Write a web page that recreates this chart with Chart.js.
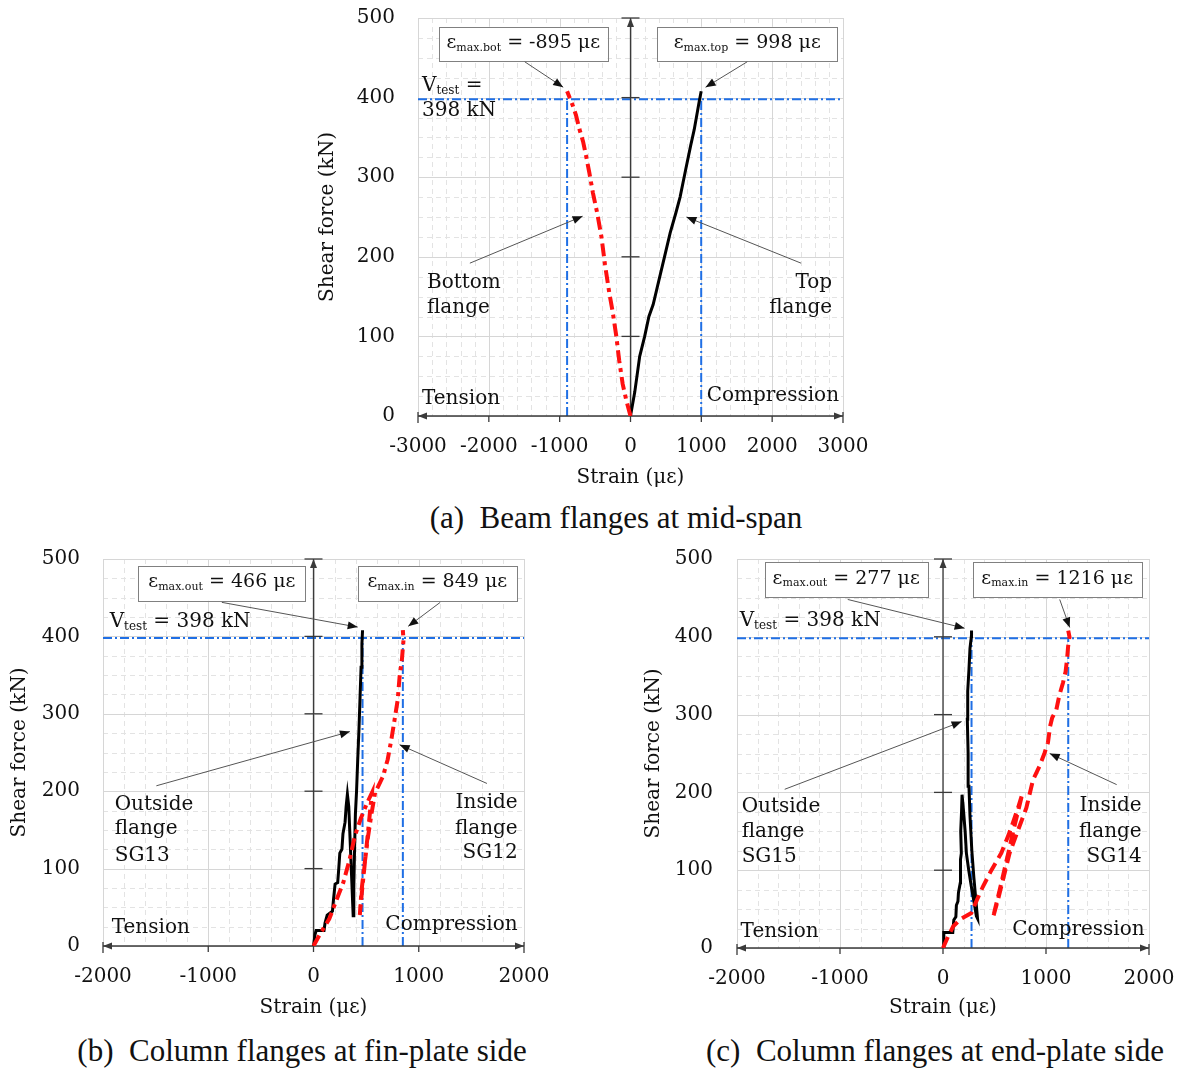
<!DOCTYPE html>
<html>
<head>
<meta charset="utf-8">
<script src="https://cdn.jsdelivr.net/npm/chart.js@4.4.1/dist/chart.umd.min.js"></script>
<style>
  body { margin: 0; background: #fff; }
  #page { position: relative; width: 1185px; height: 1072px; overflow: hidden; background: #fff; }
  canvas { position: absolute; }
  .cap { position: absolute; font-family: "Liberation Serif", serif; font-size: 31px; color: #111; white-space: pre; transform: translateX(-50%); }
</style>
</head>
<body>
<div id="page">
  <canvas id="chartA" width="575" height="500" style="left:300px;top:0px"></canvas>
  <canvas id="chartB" width="560" height="490" style="left:0px;top:540px"></canvas>
  <canvas id="chartC" width="555" height="490" style="left:630px;top:540px"></canvas>
  <div class="cap" style="left:616px;top:500px">(a)  Beam flanges at mid-span</div>
  <div class="cap" style="left:302px;top:1033px">(b)  Column flanges at fin-plate side</div>
  <div class="cap" style="left:935px;top:1033px">(c)  Column flanges at end-plate side</div>
</div>
<script>
// ---- data (strain in microstrain, shear force in kN) ----
const xTicksA = [-3000, -2000, -1000, 0, 1000, 2000, 3000];
const xTicksBC = [-2000, -1000, 0, 1000, 2000];
const yTicks = [0, 100, 200, 300, 400, 500];
const vTest = 398;

// (a) beam flanges at mid-span
const topFlangeStrainA = [0, 60, 130, 200, 260, 320, 400, 480, 560, 640, 700, 780, 850, 900, 940, 970, 998];
const topFlangeForceA  = [0, 30, 75, 100, 125, 140, 170, 200, 230, 255, 275, 310, 340, 360, 380, 395, 408];
const botFlangeStrainA = [0, -60, -110, -160, -200, -250, -300, -360, -410, -470, -530, -580, -625, -670, -720, -770, -815, -860, -895];
const botFlangeForceA  = [0, 20, 40, 70, 100, 130, 155, 190, 225, 255, 280, 305, 326, 345, 360, 378, 390, 400, 408];
const peaksA = [-895, 998];

// (b) column flanges at fin-plate side
const outStrainB = [0, 15, 25, 100, 110, 130, 180, 190, 205, 230, 240, 250, 270, 280, 300, 310, 322, 335, 350, 365, 377, 383, 390, 398, 409, 420, 432, 442, 452, 460, 466];
const outForceB  = [0, 15, 20, 20, 30, 40, 45, 60, 80, 82, 100, 120, 125, 145, 160, 180, 196, 180, 130, 80, 39, 75, 125, 170, 200, 240, 280, 320, 360, 390, 408];
const inStrainB  = [0, 60, 150, 220, 283, 340, 393, 450, 510, 555, 520, 490, 460, 440, 455, 480, 519, 550, 585, 660, 705, 740, 770, 800, 818, 840, 855, 849];
const inForceB   = [0, 15, 35, 60, 82, 110, 142, 165, 185, 198, 150, 110, 70, 40, 70, 100, 142, 170, 198, 219, 241, 267, 292, 318, 348, 370, 395, 408];
const peaksB = [466, 849];

// (c) column flanges at end-plate side
const outStrainC = [0, 8, 95, 105, 125, 130, 145, 150, 168, 170, 178, 172, 180, 185, 200, 215, 227, 250, 275, 300, 324, 335, 320, 300, 280, 262, 252, 244, 236, 240, 252, 262, 275, 277];
const outForceC  = [0, 20, 20, 36, 40, 55, 60, 71, 84, 114, 122, 150, 175, 197, 175, 150, 122, 100, 79, 60, 41, 38, 60, 90, 125, 170, 208, 250, 294, 330, 358, 385, 400, 408];
const inStrainC  = [0, 50, 100, 180, 275, 330, 388, 470, 566, 650, 728, 770, 700, 630, 560, 485, 534, 590, 647, 730, 809, 874, 938, 987, 1019, 1040, 1060, 1100, 1130, 1165, 1190, 1205, 1215, 1228, 1216];
const inForceC   = [0, 15, 28, 38, 45, 62, 79, 100, 122, 150, 180, 198, 160, 120, 80, 39, 62, 92, 122, 152, 180, 216, 234, 251, 264, 285, 296, 306, 325, 341, 355, 372, 388, 400, 408];
const peaksC = [277, 1216];

const FONT = 'DejaVu Serif';
const TXT = '#111';
const BLUE = '#1f6fe5';

// text pieces with an optional subscript
function rich(main, sub, rest, size = 20) {
  return [{ text: main, size: size }, { text: sub, size: size - 8, dy: 5 }, { text: rest, size: size }];
}
function plain(t) { return [{ text: t, size: 20 }]; }

function drawRich(ctx, parts, x, y, align) {
  let w = 0;
  parts.forEach(p => { ctx.font = p.size + 'px "' + FONT + '"'; w += ctx.measureText(p.text).width; });
  let cx = align === 'right' ? x - w : align === 'center' ? x - w / 2 : x;
  ctx.textAlign = 'left';
  ctx.textBaseline = 'middle';
  ctx.fillStyle = TXT;
  parts.forEach(p => {
    ctx.font = p.size + 'px "' + FONT + '"';
    ctx.fillText(p.text, cx, y + (p.dy || 0));
    cx += ctx.measureText(p.text).width;
  });
}

function arrowHead(ctx, x1, y1, x2, y2, len, half) {
  const ang = Math.atan2(y2 - y1, x2 - x1);
  ctx.beginPath();
  ctx.moveTo(x2, y2);
  ctx.lineTo(x2 - len * Math.cos(ang) + half * Math.sin(ang), y2 - len * Math.sin(ang) - half * Math.cos(ang));
  ctx.lineTo(x2 - len * Math.cos(ang) - half * Math.sin(ang), y2 - len * Math.sin(ang) + half * Math.cos(ang));
  ctx.closePath();
  ctx.fill();
}

function line(ctx, x1, y1, x2, y2) {
  ctx.beginPath(); ctx.moveTo(x1, y1); ctx.lineTo(x2, y2); ctx.stroke();
}

function framePlugin(o) {
  return {
    id: 'frame',
    beforeDatasetsDraw(chart) {
      const { ctx, chartArea: a, scales: { x, y } } = chart;
      const xs = o.xTicks;
      const xmin = xs[0], xmax = xs[xs.length - 1];
      ctx.save();
      // minor grid
      ctx.strokeStyle = '#e3e3e3';
      ctx.lineWidth = 1;
      ctx.setLineDash([5, 4]);
      for (let v = xmin; v <= xmax; v += 200) {
        if (v % 1000 === 0) continue;
        const px = Math.round(x.getPixelForValue(v)) + 0.5;
        line(ctx, px, a.top, px, a.bottom);
      }
      for (let v = 0; v <= 500; v += 25) {
        if (v % 100 === 0) continue;
        const py = Math.round(y.getPixelForValue(v)) + 0.5;
        line(ctx, a.left, py, a.right, py);
      }
      // major grid
      ctx.setLineDash([]);
      ctx.strokeStyle = '#d6d6d6';
      xs.forEach(v => { const px = Math.round(x.getPixelForValue(v)) + 0.5; line(ctx, px, a.top, px, a.bottom); });
      yTicks.forEach(v => { const py = Math.round(y.getPixelForValue(v)) + 0.5; line(ctx, a.left, py, a.right, py); });

      // test load and peak strain guides
      ctx.strokeStyle = BLUE;
      ctx.lineWidth = 2;
      ctx.setLineDash([9, 3, 2, 3]);
      const pv = y.getPixelForValue(vTest);
      line(ctx, a.left, pv, a.right, pv);
      o.peaks.forEach(p => {
        const px = x.getPixelForValue(p);
        line(ctx, px, y.getPixelForValue(0), px, pv);
      });
      ctx.setLineDash([]);

      // axes through origin
      ctx.strokeStyle = '#3a3a3a';
      ctx.fillStyle = '#3a3a3a';
      ctx.lineWidth = 1.3;
      const x0 = x.getPixelForValue(0), y0 = y.getPixelForValue(0), yTop = y.getPixelForValue(500);
      line(ctx, x0, y0, x0, yTop);
      arrowHead(ctx, x0, y0, x0, yTop, 9, 3.5);
      line(ctx, x0 - 9, yTop, x0 + 9, yTop);
      yTicks.forEach(v => {
        if (v === 0 || v === 500) return;
        const py = y.getPixelForValue(v);
        line(ctx, x0 - 9, py, x0 + 9, py);
      });
      const xl = x.getPixelForValue(xmin), xr = x.getPixelForValue(xmax);
      line(ctx, xl, y0, xr, y0);
      arrowHead(ctx, xr, y0, xl, y0, 9, 3.5);
      arrowHead(ctx, xl, y0, xr, y0, 9, 3.5);
      line(ctx, xl, y0 - 4, xl, y0 + 7);
      line(ctx, xr, y0 - 4, xr, y0 + 7);
      xs.forEach(v => {
        if (v === xmin || v === xmax) return;
        const px = x.getPixelForValue(v);
        line(ctx, px, y0, px, y0 + 6);
      });
      ctx.restore();
    },
    afterDatasetsDraw(chart) {
      const { ctx, scales: { x, y } } = chart;
      const n = o.notes;
      ctx.save();
      n.boxes.forEach(b => {
        const l = x.getPixelForValue(b.x1), r = x.getPixelForValue(b.x2);
        const t = y.getPixelForValue(b.y1), btm = y.getPixelForValue(b.y2);
        ctx.fillStyle = '#fff';
        ctx.fillRect(l, t, r - l, btm - t);
        ctx.strokeStyle = '#808080';
        ctx.lineWidth = 1;
        ctx.strokeRect(Math.round(l) + 0.5, Math.round(t) + 0.5, Math.round(r - l), Math.round(btm - t));
        drawRich(ctx, b.parts, (l + r) / 2, (t + btm) / 2 - 1, 'center');
      });
      n.arrows.forEach(ar => {
        const x1 = x.getPixelForValue(ar.from[0]), y1 = y.getPixelForValue(ar.from[1]);
        const x2 = x.getPixelForValue(ar.to[0]), y2 = y.getPixelForValue(ar.to[1]);
        ctx.strokeStyle = '#555';
        ctx.fillStyle = '#111';
        ctx.lineWidth = 1;
        line(ctx, x1, y1, x2, y2);
        arrowHead(ctx, x1, y1, x2, y2, 10, 4);
      });
      n.labels.forEach(lb => {
        drawRich(ctx, lb.parts, x.getPixelForValue(lb.x), y.getPixelForValue(lb.y), lb.align);
      });
      ctx.restore();
    }
  };
}

function buildChart(id, o) {
  const tickFont = { family: FONT, size: 20 };
  return new Chart(document.getElementById(id), {
    type: 'scatter',
    data: {
      datasets: o.series.map(s => ({
        data: s.strain.map((v, i) => ({ x: v, y: s.force[i] })),
        showLine: true,
        borderColor: s.color,
        backgroundColor: s.color,
        borderWidth: s.width,
        borderDash: s.dash,
        borderCapStyle: 'butt',
        pointRadius: 0,
        tension: 0,
        fill: false
      }))
    },
    options: {
      responsive: false,
      animation: false,
      events: [],
      layout: { padding: o.padding },
      plugins: { legend: { display: false }, tooltip: { enabled: false } },
      scales: {
        x: {
          type: 'linear',
          min: o.xTicks[0],
          max: o.xTicks[o.xTicks.length - 1],
          afterBuildTicks: s => { s.ticks = o.xTicks.map(v => ({ value: v })); },
          afterFit: s => { s.height = o.xAxisHeight; },
          grid: { display: false, drawTicks: true, tickLength: 19 },
          border: { display: false },
          ticks: { font: tickFont, color: TXT, padding: 0, maxRotation: 0, autoSkip: false, callback: v => String(v) },
          title: { display: true, text: 'Strain (με)', font: tickFont, color: TXT, padding: { top: 0, bottom: 10 } }
        },
        y: {
          type: 'linear',
          min: 0,
          max: 500,
          afterBuildTicks: s => { s.ticks = yTicks.map(v => ({ value: v })); },
          afterFit: s => { s.width = o.yAxisWidth; },
          grid: { display: false, drawTicks: true, tickLength: o.yTickPad },
          border: { display: false },
          ticks: { font: tickFont, color: TXT, padding: 0, autoSkip: false, callback: v => String(v) },
          title: { display: true, text: 'Shear force (kN)', font: tickFont, color: TXT, padding: { top: o.yTitlePad, bottom: 0 } }
        }
      }
    },
    plugins: [framePlugin(o)]
  });
}

buildChart('chartA', {
  xTicks: xTicksA, peaks: peaksA,
  padding: { top: 18, right: 32, left: 0, bottom: 0 },
  yAxisWidth: 118, xAxisHeight: 84, yTickPad: 23, yTitlePad: 16,
  series: [
    { strain: botFlangeStrainA, force: botFlangeForceA, color: '#ff1010', width: 4, dash: [13, 5, 4, 5] },
    { strain: topFlangeStrainA, force: topFlangeForceA, color: '#000', width: 3, dash: [] }
  ],
  notes: {
    boxes: [
      { x1: -2704, x2: -324, y1: 489, y2: 446, parts: rich('ε', 'max.bot', ' = -895 με', 19) },
      { x1: 380, x2: 2915, y1: 489, y2: 446, parts: rich('ε', 'max.top', ' = 998 με', 19) }
    ],
    arrows: [
      { from: [-1493, 445], to: [-950, 413] },
      { from: [1648, 445], to: [1060, 413] },
      { from: [-2268, 192], to: [-676, 251] },
      { from: [2408, 192], to: [789, 250] }
    ],
    labels: [
      { x: -2944, y: 415, align: 'left', parts: rich('V', 'test', ' =') },
      { x: -2944, y: 383, align: 'left', parts: plain('398 kN') },
      { x: -2873, y: 167, align: 'left', parts: plain('Bottom') },
      { x: -2873, y: 136, align: 'left', parts: plain('flange') },
      { x: 2845, y: 167, align: 'right', parts: plain('Top') },
      { x: 2845, y: 136, align: 'right', parts: plain('flange') },
      { x: -2944, y: 21, align: 'left', parts: plain('Tension') },
      { x: 2944, y: 26, align: 'right', parts: plain('Compression') }
    ]
  }
});

buildChart('chartB', {
  xTicks: xTicksBC, peaks: peaksB,
  padding: { top: 19, right: 36, left: 0, bottom: 0 },
  yAxisWidth: 103, xAxisHeight: 84, yTickPad: 23, yTitlePad: 8,
  series: [
    { strain: inStrainB, force: inForceB, color: '#ff1010', width: 4, dash: [12, 5, 4, 5] },
    { strain: outStrainB, force: outForceB, color: '#000', width: 3, dash: [] }
  ],
  notes: {
    boxes: [
      { x1: -1663, x2: -78, y1: 491, y2: 446, parts: rich('ε', 'max.out', ' = 466 με', 19) },
      { x1: 421, x2: 1931, y1: 491, y2: 446, parts: rich('ε', 'max.in', ' = 849 με', 19) }
    ],
    arrows: [
      { from: [-871, 444], to: [420, 412] },
      { from: [1204, 444], to: [900, 413] },
      { from: [-1493, 207], to: [346, 277] },
      { from: [1648, 210], to: [818, 260] }
    ],
    labels: [
      { x: -1937, y: 419, align: 'left', parts: rich('V', 'test', ' = 398 kN') },
      { x: -1889, y: 183, align: 'left', parts: plain('Outside') },
      { x: -1889, y: 151, align: 'left', parts: plain('flange') },
      { x: -1889, y: 117, align: 'left', parts: plain('SG13') },
      { x: 1940, y: 185, align: 'right', parts: plain('Inside') },
      { x: 1940, y: 152, align: 'right', parts: plain('flange') },
      { x: 1940, y: 120, align: 'right', parts: plain('SG12') },
      { x: -1917, y: 24, align: 'left', parts: plain('Tension') },
      { x: 1940, y: 27, align: 'right', parts: plain('Compression') }
    ]
  }
});

buildChart('chartC', {
  xTicks: xTicksBC, peaks: peaksC,
  padding: { top: 19, right: 36, left: 0, bottom: 0 },
  yAxisWidth: 107, xAxisHeight: 82, yTickPad: 24, yTitlePad: 12,
  series: [
    { strain: inStrainC, force: inForceC, color: '#ff1010', width: 4, dash: [12, 6] },
    { strain: outStrainC, force: outForceC, color: '#000', width: 3, dash: [] }
  ],
  notes: {
    boxes: [
      { x1: -1731, x2: -149, y1: 496, y2: 451, parts: rich('ε', 'max.out', ' = 277 με', 19) },
      { x1: 288, x2: 1929, y1: 496, y2: 451, parts: rich('ε', 'max.in', ' = 1216 με', 19) }
    ],
    arrows: [
      { from: [-925, 448], to: [210, 411] },
      { from: [1133, 448], to: [1230, 412] },
      { from: [-1537, 204], to: [181, 291] },
      { from: [1686, 210], to: [1036, 250] }
    ],
    labels: [
      { x: -1974, y: 420, align: 'left', parts: rich('V', 'test', ' = 398 kN') },
      { x: -1955, y: 182, align: 'left', parts: plain('Outside') },
      { x: -1955, y: 150, align: 'left', parts: plain('flange') },
      { x: -1955, y: 117, align: 'left', parts: plain('SG15') },
      { x: 1929, y: 183, align: 'right', parts: plain('Inside') },
      { x: 1929, y: 150, align: 'right', parts: plain('flange') },
      { x: 1929, y: 117, align: 'right', parts: plain('SG14') },
      { x: -1965, y: 21, align: 'left', parts: plain('Tension') },
      { x: 1958, y: 24, align: 'right', parts: plain('Compression') }
    ]
  }
});
</script>
</body>
</html>
